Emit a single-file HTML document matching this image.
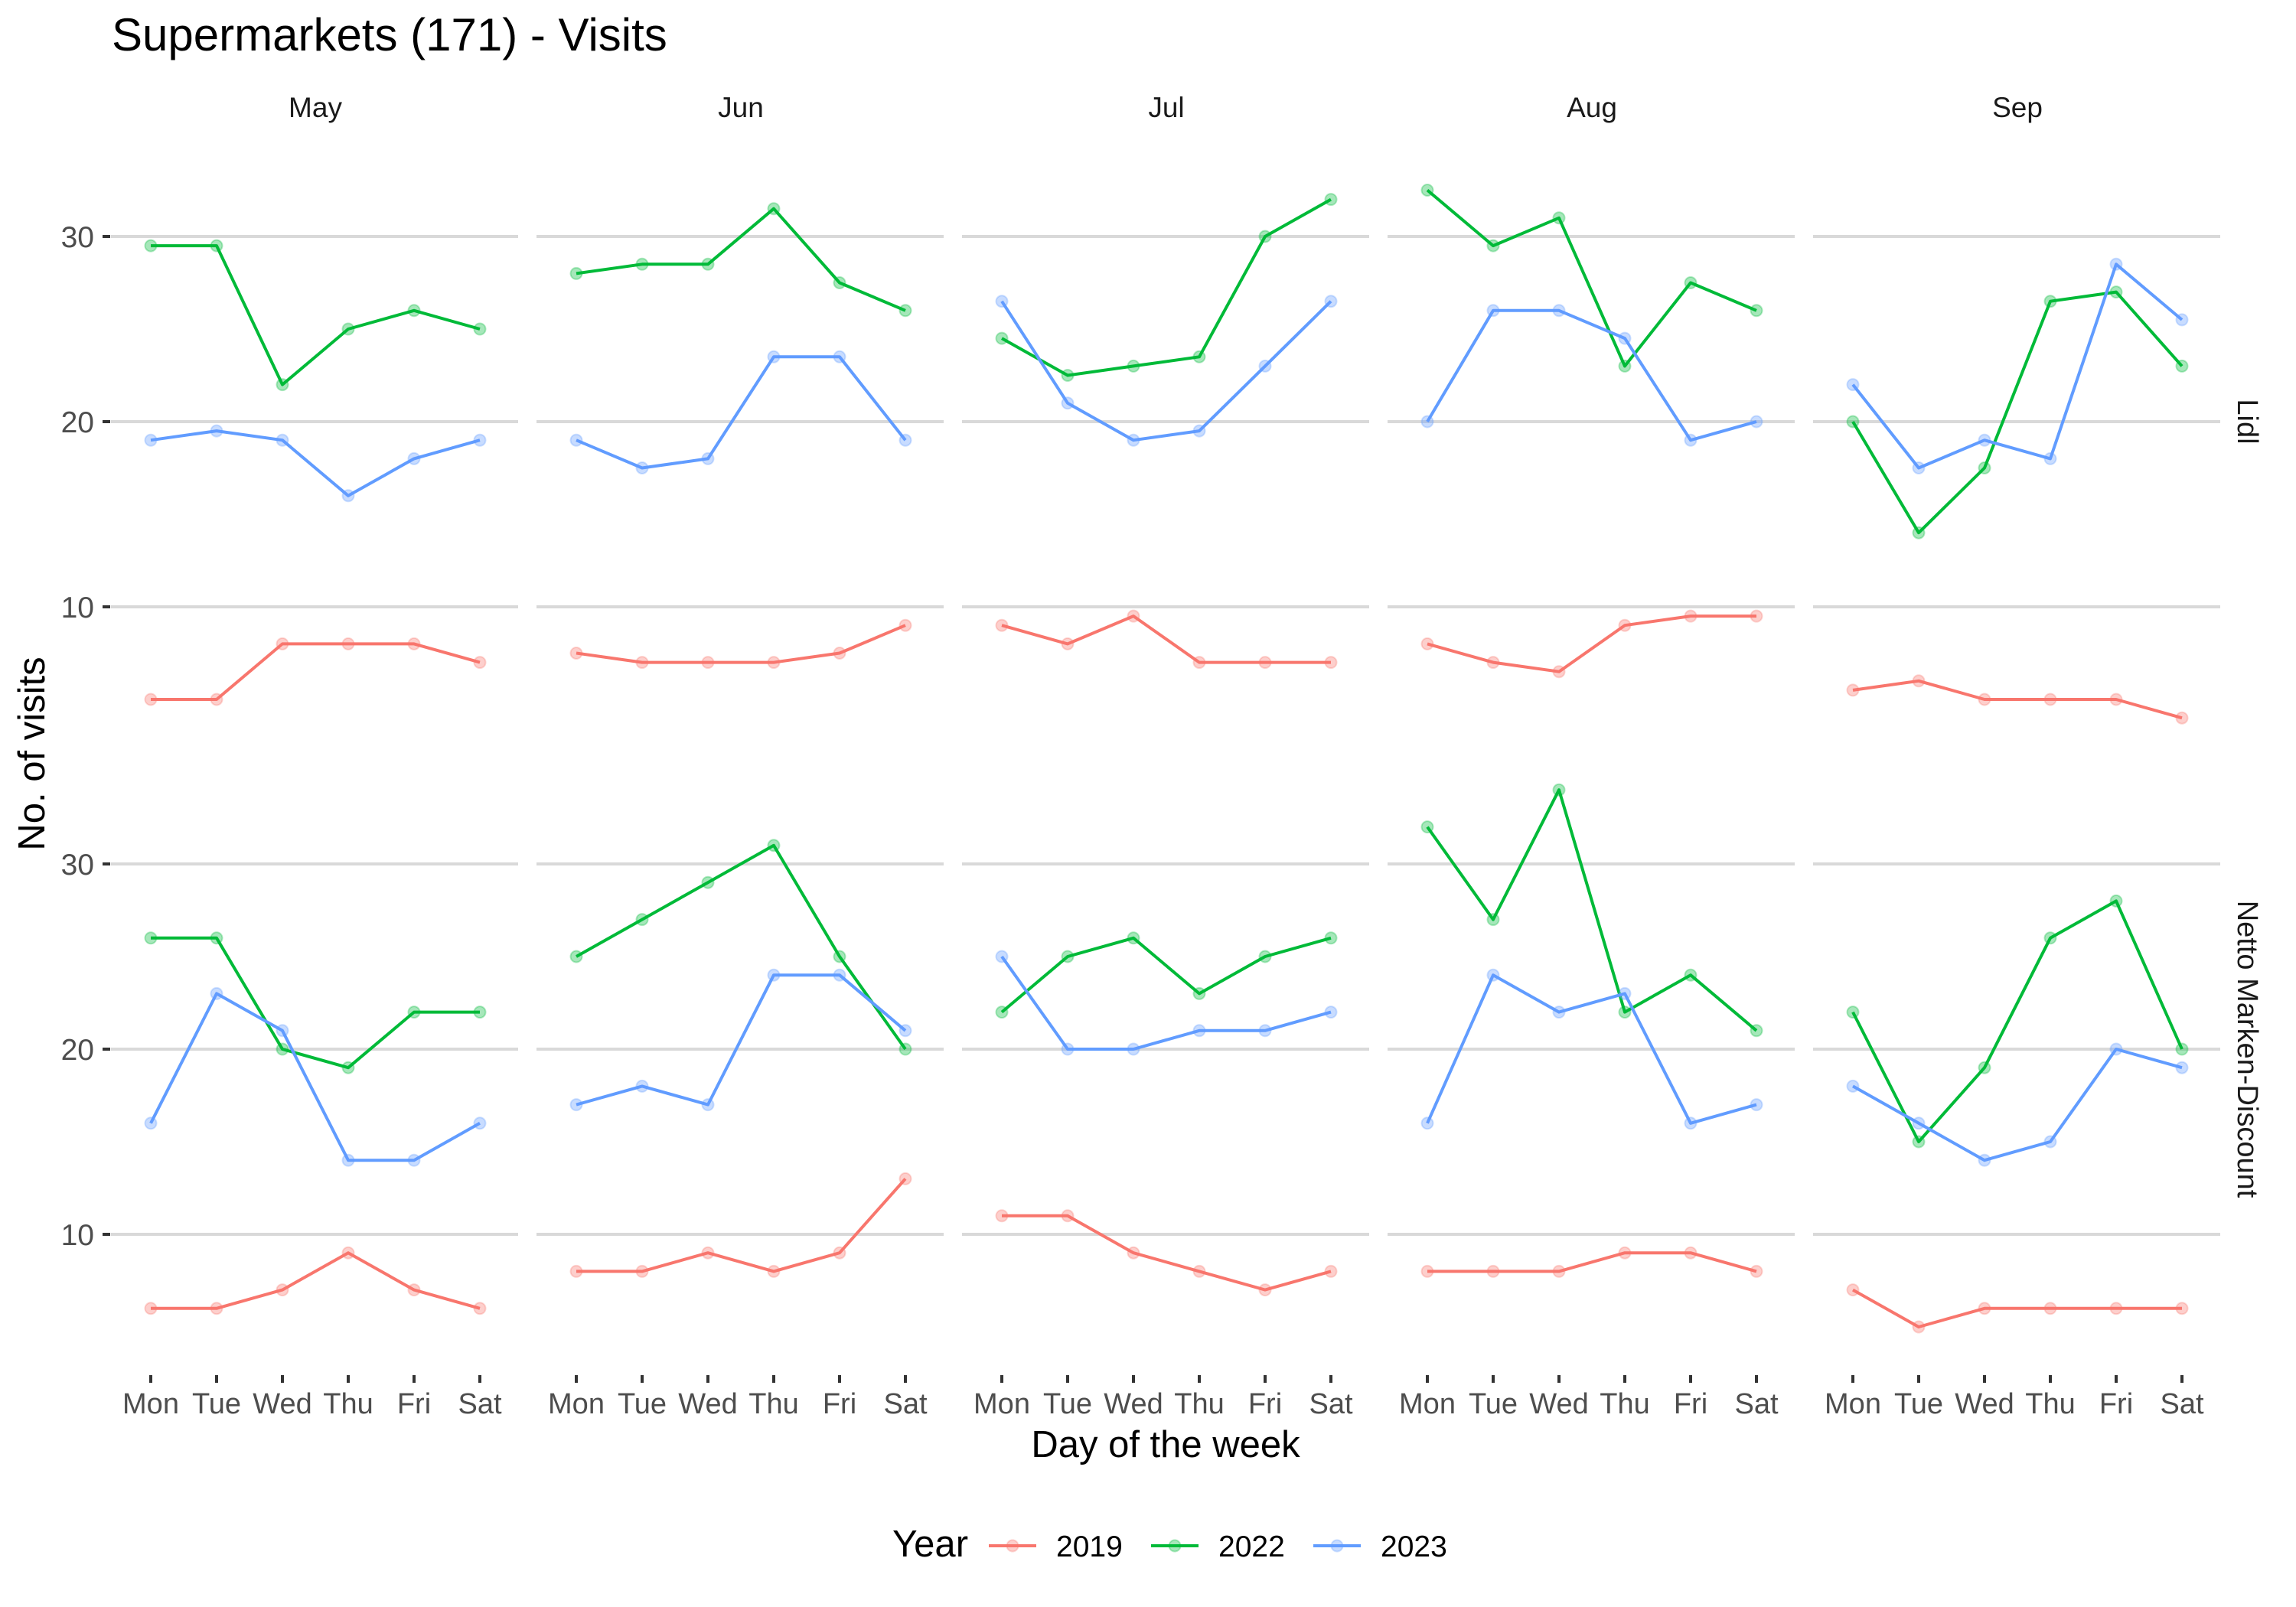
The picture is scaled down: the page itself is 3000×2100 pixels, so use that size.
<!DOCTYPE html>
<html><head><meta charset="utf-8"><style>
html,body{margin:0;padding:0;background:#fff;}
svg{display:block;font-family:"Liberation Sans",Arial,sans-serif;}
</style></head><body>
<svg id="chart" width="3000" height="2100" viewBox="0 0 3000 2100" xmlns="http://www.w3.org/2000/svg">
<rect width="3000" height="2100" fill="#fff"/>
<text x="146" y="66" font-size="60" fill="#000">Supermarkets (171) - Visits</text>
<text transform="translate(58,985) rotate(-90)" text-anchor="middle" font-size="49" fill="#000">No. of visits</text>
<text x="1523" y="1904" text-anchor="middle" font-size="49" fill="#000">Day of the week</text>
<g id="panels"></g>
<g>
<text x="1166" y="2034" font-size="49" fill="#000">Year</text>
<g id="legend"></g>
</g>
</svg>
<script>
const months = ["May","Jun","Jul","Aug","Sep"];
const days = ["Mon","Tue","Wed","Thu","Fri","Sat"];
const stores = ["Lidl","Netto Marken-Discount"];
const years = ["2019","2022","2023"];
const yTicks = [10,20,30];
// Lidl
const lidl2019 = [[5,5,8,8,8,7],[7.5,7,7,7,7.5,9],[9,8,9.5,7,7,7],[8,7,6.5,9,9.5,9.5],[5.5,6,5,5,5,4]];
const lidl2022 = [[29.5,29.5,22,25,26,25],[28,28.5,28.5,31.5,27.5,26],[24.5,22.5,23,23.5,30,32],[32.5,29.5,31,23,27.5,26],[20,14,17.5,26.5,27,23]];
const lidl2023 = [[19,19.5,19,16,18,19],[19,17.5,18,23.5,23.5,19],[26.5,21,19,19.5,23,26.5],[20,26,26,24.5,19,20],[22,17.5,19,18,28.5,25.5]];
// Netto
const netto2019 = [[6,6,7,9,7,6],[8,8,9,8,9,13],[11,11,9,8,7,8],[8,8,8,9,9,8],[7,5,6,6,6,6]];
const netto2022 = [[26,26,20,19,22,22],[25,27,29,31,25,20],[22,25,26,23,25,26],[32,27,34,22,24,21],[22,15,19,26,28,20]];
const netto2023 = [[16,23,21,14,14,16],[17,18,17,24,24,21],[25,20,20,21,21,22],[16,24,22,23,16,17],[18,16,14,15,20,19]];

const seriesByStore = [[lidl2019,lidl2022,lidl2023],[netto2019,netto2022,netto2023]];
const colors = ["#F8766D","#00BA38","#619CFF"];
const NS = "http://www.w3.org/2000/svg";
const panelLeft0 = 145, panelW = 532, panelGap = 24;
const rowY30 = [309, 1129], pxPerUnit = 24.2;
function xScale(m, d){ return panelLeft0 + m*(panelW+panelGap) + 52 + d*86; }
function yScale(r, v){ return rowY30[r] + (30 - v)*pxPerUnit; }
function el(tag, attrs, parent){ const e=document.createElementNS(NS,tag); for(const k in attrs) e.setAttribute(k,attrs[k]); parent.appendChild(e); return e; }
const panels = document.getElementById("panels");

months.forEach((mo,m)=>{
  const t = el("text",{x:xScale(m,0)+215,y:153,"text-anchor":"middle","font-size":37,fill:"#1A1A1A"},panels);
  
  
  t.textContent = mo;
});
stores.forEach((s,r)=>{
  const cy = yScale(r,20);
  const t = el("text",{transform:`translate(2924,${cy}) rotate(90)`,"text-anchor":"middle","font-size":38,fill:"#1A1A1A"},panels);
  
  
  t.textContent = s;
  yTicks.forEach(v=>{
    const y = yScale(r,v);
    const lab = el("text",{x:123,y:y+14,"text-anchor":"end","font-size":39,fill:"#4D4D4D"},panels);
    
    
    lab.textContent = v;
    const tk = el("line",{x1:134,x2:144,y1:y,y2:y,stroke:"#333","stroke-width":4},panels);
    
    
    months.forEach((mo,m)=>{
      const x0 = panelLeft0 + m*(panelW+panelGap);
      const g = el("line",{x1:x0,x2:x0+panelW,y1:y,y2:y,stroke:"#D9D9D9","stroke-width":4},panels);
      
      
    });
  });
  months.forEach((mo,m)=>{
    seriesByStore[r].forEach((ser,k)=>{
      const vals = ser[m];
      const pts = vals.map((v,d)=>xScale(m,d)+","+yScale(r,v)).join(" ");
      const pl = el("polyline",{points:pts,fill:"none",stroke:colors[k],"stroke-width":4,"stroke-linejoin":"round"},panels);
      
      
      vals.forEach((v,d)=>{
        const c = el("circle",{cx:xScale(m,d),cy:yScale(r,v),r:7.5,fill:colors[k],"fill-opacity":0.35,stroke:colors[k],"stroke-opacity":0.3,"stroke-width":2},panels);
        
        
      });
    });
  });
});
months.forEach((mo,m)=>{
  days.forEach((dn,d)=>{
    const x = xScale(m,d);
    const tk = el("line",{x1:x,x2:x,y1:1797,y2:1807,stroke:"#333","stroke-width":4},panels);
    
    
    const t = el("text",{x:x,y:1847,"text-anchor":"middle","font-size":38,fill:"#4D4D4D"},panels);
    
    
    t.textContent = dn;
  });
});
const legend = document.getElementById("legend");
const legX = [1292,1504,1716];
years.forEach((yr,k)=>{
  const g = el("g",{},legend);
  
  
  el("line",{x1:legX[k],x2:legX[k]+62,y1:2020,y2:2020,stroke:colors[k],"stroke-width":4},g);
  el("circle",{cx:legX[k]+31,cy:2020,r:7.5,fill:colors[k],"fill-opacity":0.35,stroke:colors[k],"stroke-opacity":0.3,"stroke-width":2},g);
  const t = el("text",{x:legX[k]+88,y:2034,"font-size":39,fill:"#000"},g);
  t.textContent = yr;
});
</script>
</body></html>
